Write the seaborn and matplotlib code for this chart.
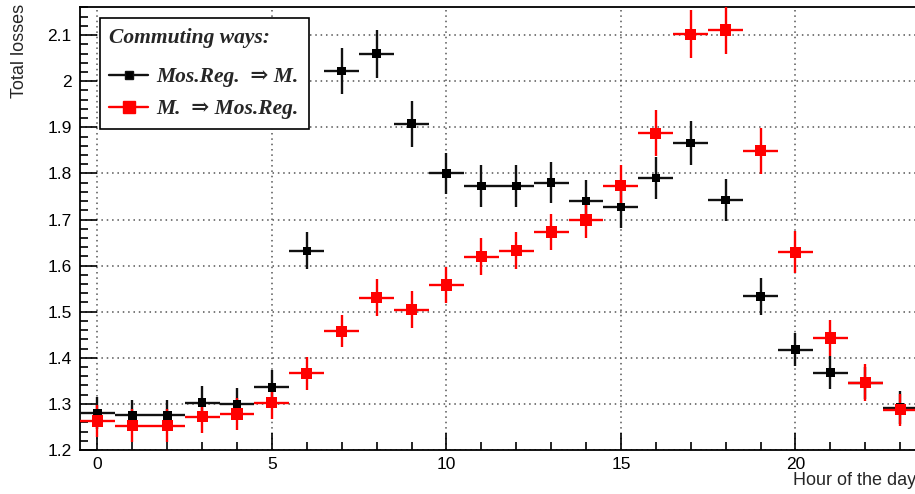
import numpy as np
import pandas as pd
import seaborn as sns
import matplotlib.pyplot as plt
from matplotlib.lines import Line2D
from matplotlib.ticker import MultipleLocator

# data
hours = list(range(24))
mos_to_m = [1.280, 1.275, 1.275, 1.303, 1.300, 1.336, 1.632, 2.022, 2.060, 1.908,
            1.800, 1.773, 1.773, 1.780, 1.740, 1.727, 1.790, 1.866, 1.742, 1.533,
            1.418, 1.368, 1.345, 1.292]
mos_to_m_err = [0.035, 0.033, 0.033, 0.035, 0.035, 0.038, 0.040, 0.050, 0.052, 0.050,
                0.045, 0.045, 0.045, 0.045, 0.045, 0.045, 0.045, 0.048, 0.045, 0.040,
                0.035, 0.035, 0.035, 0.035]
m_to_mos = [1.263, 1.253, 1.253, 1.272, 1.278, 1.303, 1.366, 1.458, 1.530, 1.504,
            1.558, 1.619, 1.632, 1.673, 1.699, 1.773, 1.887, 2.102, 2.111, 1.849,
            1.629, 1.443, 1.346, 1.287]
m_to_mos_err = [0.035, 0.035, 0.035, 0.035, 0.035, 0.035, 0.035, 0.035, 0.040, 0.040,
                0.040, 0.040, 0.040, 0.040, 0.040, 0.045, 0.050, 0.052, 0.052, 0.050,
                0.045, 0.040, 0.040, 0.035]
hour_err = 0.5

df = pd.DataFrame({"hour": hours, "black": mos_to_m, "black_err": mos_to_m_err,
                   "red": m_to_mos, "red_err": m_to_mos_err})

sns.set_style("ticks")
plt.rcParams['font.family'] = ['Liberation Sans', 'DejaVu Sans']

fig = plt.figure(figsize=(9.15, 4.94), dpi=100)
ax = fig.add_axes([80/915, 44/494, 855/915, 443/494])

blk = "#111111"
red = "#ff0000"

ax.errorbar(df.hour, df.black, xerr=hour_err, yerr=df.black_err, fmt="none",
            ecolor=blk, elinewidth=1.7, capsize=0, zorder=3)
ax.errorbar(df.hour, df.red, xerr=hour_err, yerr=df.red_err, fmt="none",
            ecolor=red, elinewidth=1.7, capsize=0, zorder=4)
sns.scatterplot(data=df, x="hour", y="black", marker="s", s=38, color="black",
                edgecolor="none", ax=ax, zorder=5)
sns.scatterplot(data=df, x="hour", y="red", marker="s", s=64, color=red,
                edgecolor="none", ax=ax, zorder=6)

ax.set_xlim(-0.5, 24)
ax.set_ylim(1.2, 2.161)
ax.xaxis.set_major_locator(MultipleLocator(5))
ax.xaxis.set_minor_locator(MultipleLocator(1))
ax.yaxis.set_major_locator(MultipleLocator(0.1))
ax.yaxis.set_minor_locator(MultipleLocator(0.02))
ax.yaxis.set_major_formatter(plt.FuncFormatter(lambda v, p: f"{v:g}"))
ax.tick_params(which="both", direction="in", colors="black", labelsize=12.5, width=1.2)
ax.tick_params(which="major", length=12)
ax.tick_params(which="minor", length=6)
ax.tick_params(axis="x", pad=5)
ax.tick_params(axis="y", pad=6)
ax.grid(True, which="major", linestyle=(0, (1, 2.5)), color="#555555", linewidth=1.1)
for s in ax.spines.values():
    s.set_linewidth(1.3)
    s.set_color("black")
ax.set_xlabel("")
ax.set_ylabel("")

fig.text(0.021, 0.992, "Total losses", rotation=90, ha="center", va="top", fontsize=13)
fig.text(793/915, 0.028, "Hour of the day", ha="left", va="center", fontsize=13)

handles = [
    Line2D([], [], color=blk, lw=1.7, marker="s", markersize=6, markerfacecolor="black"),
    Line2D([], [], color=red, lw=1.7, marker="s", markersize=8, markerfacecolor=red),
]
lfont = {"family": ["Liberation Serif", "DejaVu Serif"], "weight": "bold",
         "style": "italic", "size": 15.5}
leg = ax.legend(handles, ["Mos.Reg.  \u21d2 M.", "M.  \u21d2 Mos.Reg."],
                title="Commuting ways:", title_fontproperties=lfont, prop=lfont,
                loc="upper left", bbox_to_anchor=(0.023, 0.975), alignment="left",
                fancybox=False, framealpha=1, edgecolor="black", handlelength=1.8,
                borderpad=0.45, labelspacing=0.55, handletextpad=0.4, borderaxespad=0)
leg.get_frame().set_linewidth(1.2)
leg.set_zorder(10)
# push the entries a bit further below the title, as in the reference
leg._legend_box.sep = 14

fig.savefig("out.png", dpi=100)
